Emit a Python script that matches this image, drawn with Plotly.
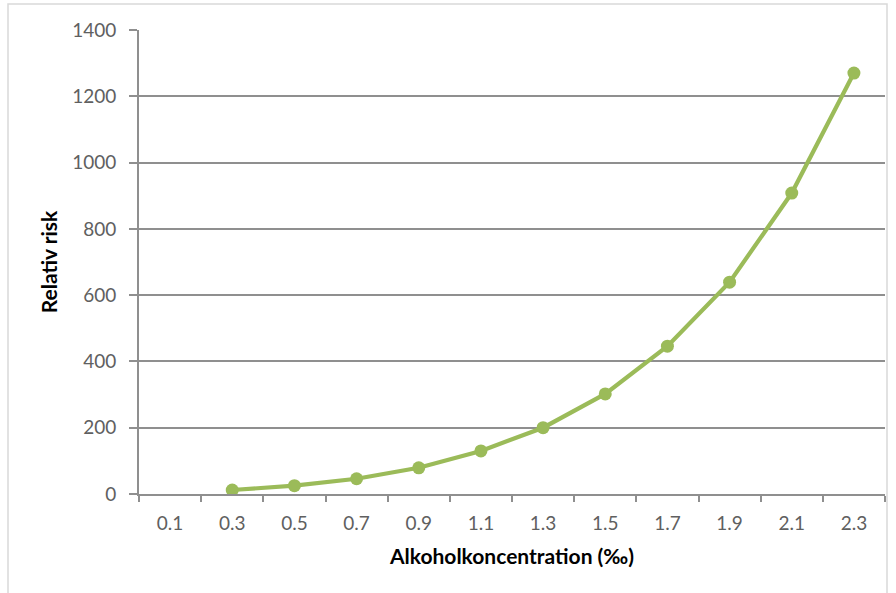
import plotly.graph_objects as go

# Alcohol concentration categories (per mille) and relative risk
concentrations = ["0.1", "0.3", "0.5", "0.7", "0.9", "1.1", "1.3", "1.5", "1.7", "1.9", "2.1", "2.3"]
risk_categories = ["0.3", "0.5", "0.7", "0.9", "1.1", "1.3", "1.5", "1.7", "1.9", "2.1", "2.3"]
relative_risk = [12, 25, 46, 79, 130, 200, 302, 446, 639, 908, 1270]
y_ticks = [0, 200, 400, 600, 800, 1000, 1200, 1400]

W, H = 896, 593
L, R, T, B = 139, 11, 30, 99
pw, ph = W - L - R, H - T - B

GREEN = "#9BBB59"
GRID = "#8f8f8f"
FAMILY = "Lato, Open Sans, sans-serif"
TICKFONT = dict(family=FAMILY, size=19, color="#606060")
TITLEFONT = dict(family=FAMILY, size=21, color="#000000", weight="bold")

fig = go.Figure()
fig.add_trace(go.Scatter(
    x=risk_categories, y=relative_risk,
    mode="lines+markers",
    line=dict(color=GREEN, width=4.2),
    marker=dict(color=GREEN, size=13),
    showlegend=False,
))

# outer chart frame
def px_to_paper_x(px):
    return (px - L) / pw

def px_to_paper_y(py):
    return (H - B - py) / ph

fig.add_shape(type="rect", xref="paper", yref="paper",
              x0=px_to_paper_x(8), x1=px_to_paper_x(887),
              y0=px_to_paper_y(600), y1=px_to_paper_y(4),
              line=dict(color="#d9d9d9", width=1.5), layer="below")

fig.update_layout(
    width=W, height=H,
    margin=dict(l=L, r=R, t=T, b=B),
    paper_bgcolor="white", plot_bgcolor="white",
    xaxis=dict(
        type="category",
        categoryorder="array", categoryarray=concentrations,
        tickvals=concentrations, ticktext=concentrations,
        range=[-0.5, len(concentrations) - 0.5],
        tickson="boundaries",
        ticks="outside", ticklen=6, tickcolor=GRID, tickwidth=1.5,
        showline=True, linecolor=GRID, linewidth=1.8,
        showgrid=False, zeroline=False,
        tickfont=TICKFONT, ticklabelstandoff=11,
        title=dict(text="Alkoholkoncentration (‰)", standoff=17, font=TITLEFONT),
    ),
    yaxis=dict(
        range=[0, 1400], tickvals=y_ticks,
        ticks="outside", ticklen=8, tickcolor=GRID, tickwidth=1.5,
        showline=True, linecolor=GRID, linewidth=1.8,
        showgrid=True, gridcolor=GRID, gridwidth=1.5,
        zeroline=False,
        tickfont=TICKFONT, ticklabelstandoff=9,
        title=dict(text="Relativ risk", standoff=9, font=TITLEFONT),
    ),
)

fig.write_html("out.html")
